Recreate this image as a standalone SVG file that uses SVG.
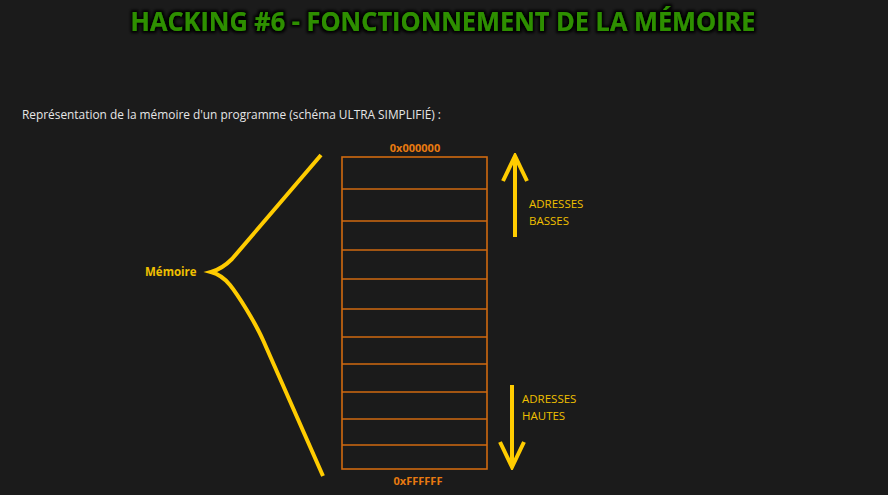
<svg xmlns="http://www.w3.org/2000/svg" width="888" height="495" viewBox="0 0 888 495">
  <defs>
    <filter id="glow" x="-5%" y="-30%" width="110%" height="160%">
      <feMorphology in="SourceAlpha" operator="dilate" radius="2" result="d"/>
      <feGaussianBlur in="d" stdDeviation="1.5" result="b"/>
      <feFlood flood-color="#000"/>
      <feComposite in2="b" operator="in" result="s"/>
      <feMerge><feMergeNode in="s"/><feMergeNode in="SourceGraphic"/></feMerge>
    </filter>
    <marker id="head" viewBox="0 0 30 30" refX="27" refY="15" markerWidth="30" markerHeight="30" markerUnits="userSpaceOnUse" orient="auto">
      <path d="M2,3 L27,15 L2,27" fill="none" stroke="#ffcc00" stroke-width="4" stroke-linejoin="miter"/>
    </marker>
  </defs>
  <style>
    .title { font-family: "Open Sans", "Liberation Sans", sans-serif; font-weight: bold; font-size: 27px; fill: #2f8f06; }
    .sub { font-family: "Open Sans", "Liberation Sans", sans-serif; font-size: 12px; fill: #e6e6e6; }
    .addr { font-family: "Open Sans", "Liberation Sans", sans-serif; font-weight: bold; font-size: 11px; fill: #e87a10; }
    .lbl { font-family: "Open Sans", "Liberation Sans", sans-serif; font-size: 11.5px; fill: #f0c000; }
    .cell { fill: none; stroke: #d06a10; stroke-width: 1.6; }
    .yel { fill: none; stroke: #ffcc00; stroke-width: 4; }
  </style>
  <rect width="888" height="495" fill="#1b1b1b"/>
  <g id="title" filter="url(#glow)">
    <text class="title" x="443" y="31" text-anchor="middle" textLength="625" lengthAdjust="spacingAndGlyphs">HACKING #6 - FONCTIONNEMENT DE LA MÉMOIRE</text>
  </g>
  <g id="subtitle">
    <text class="sub" x="22" y="119" textLength="419" lengthAdjust="spacingAndGlyphs">Représentation de la mémoire d'un programme (schéma ULTRA SIMPLIFIÉ) :</text>
  </g>
  <g id="memory">
    <rect class="cell" x="342" y="157" width="145" height="312"/>
    <path class="cell" d="M342,189H487M342,221H487M342,250H487M342,279H487M342,309H487M342,337H487M342,364H487M342,392H487M342,419H487M342,445H487"/>
    <text class="addr" x="415" y="152" text-anchor="middle">0x000000</text>
    <text class="addr" x="418" y="485" text-anchor="middle">0xFFFFFF</text>
  </g>
  <g id="brace">
    <path class="yel" d="M321,155 L232,259 Q222,269 211,272 Q222,275 230,285 C238,295 255,322 263,340 L323,476"/>
    <text class="lbl" x="145" y="276" font-weight="bold">Mémoire</text>
  </g>
  <g id="connectors">
    <line class="yel" x1="515" y1="237" x2="515" y2="156" marker-end="url(#head)"/>
    <line class="yel" x1="512" y1="385" x2="512" y2="467" marker-end="url(#head)"/>
  </g>
  <g id="low-label">
    <text class="lbl" x="529" y="208">ADRESSES</text>
    <text class="lbl" x="529" y="225">BASSES</text>
  </g>
  <g id="high-label">
    <text class="lbl" x="522" y="403">ADRESSES</text>
    <text class="lbl" x="522" y="420">HAUTES</text>
  </g>
</svg>
